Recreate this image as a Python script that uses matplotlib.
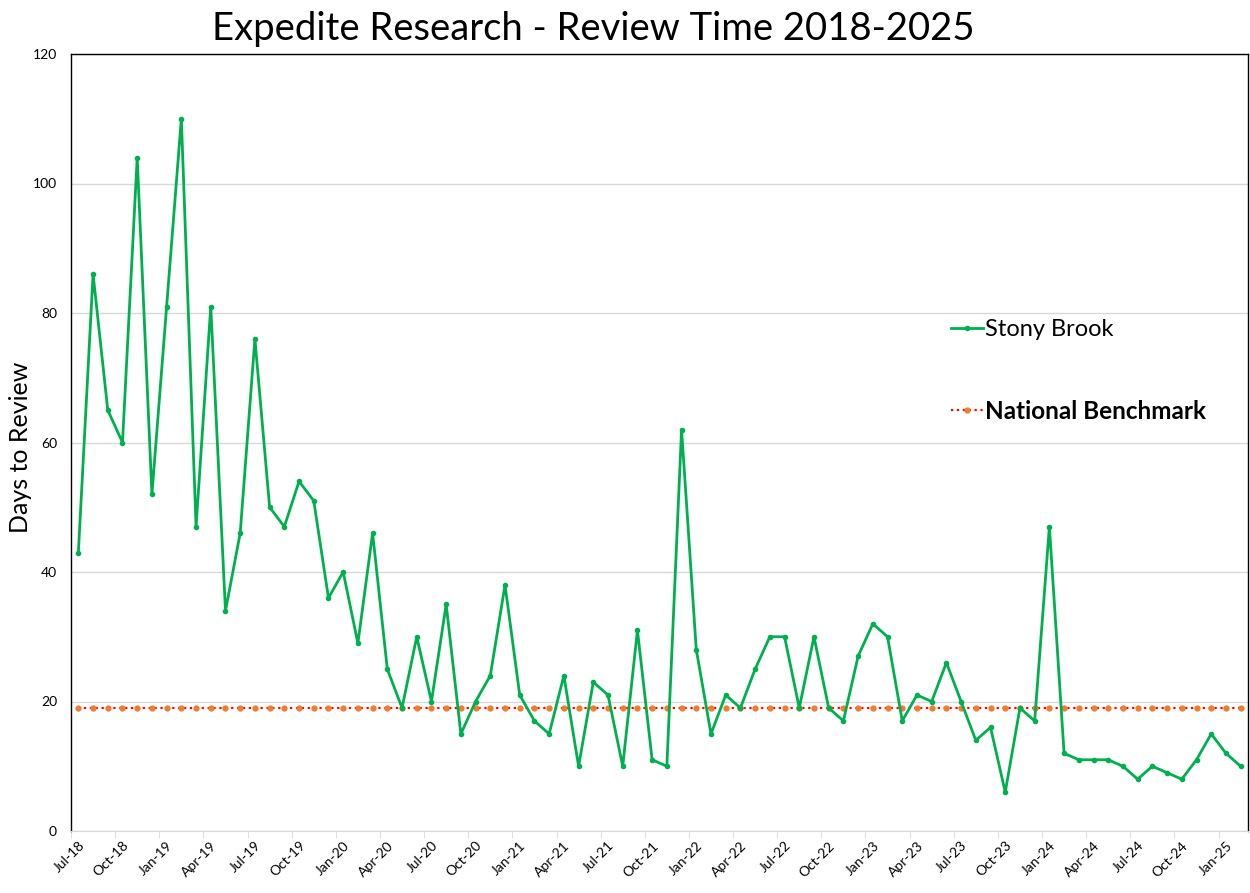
"""
Expedite Research - review time chart, 2018-2025
"""

import matplotlib
matplotlib.use('Agg')

import matplotlib.pyplot as plt
import numpy as np
import pandas as pd

# Monthly data, Jul-18 .. Feb-25
months = pd.date_range('2018-07-01', periods=80, freq='MS').strftime('%b-%y').tolist()
stony_brook = [43, 86, 65, 60, 104, 52, 81, 110, 47, 81, 34, 46,
               76, 50, 47, 54, 51, 36, 40, 29, 46, 25, 19, 30,
               20, 35, 15, 20, 24, 38, 21, 17, 15, 24, 10, 23,
               21, 10, 31, 11, 10, 62, 28, 15, 21, 19, 25, 30,
               30, 19, 30, 19, 17, 27, 32, 30, 17, 21, 20, 26,
               20, 14, 16, 6, 19, 17, 47, 12, 11, 11, 11, 10,
               8, 10, 9, 8, 11, 15, 12, 10]
benchmark = [19] * len(months)

plt.rcParams['font.family'] = ['Lato', 'DejaVu Sans']

fig = plt.figure(figsize=(12.5, 8.93), dpi=100)
ax = fig.add_axes([71 / 1250, 62 / 893, 1177 / 1250, 777 / 893])

x = np.arange(len(months))
ax.plot(x, benchmark, color='red', linestyle=':', linewidth=1.6,
        marker='o', markersize=3.5, markerfacecolor='#ED7D31',
        markeredgecolor='#ED7D31', label='National Benchmark', zorder=3)
ax.plot(x, stony_brook, color='#00B050', linewidth=2, marker='o',
        markersize=3, label='Stony Brook', zorder=4)

ax.set_xlim(-0.5, len(months) - 0.5)
ax.set_ylim(0, 120)
ax.set_yticks(np.arange(0, 121, 20))
ax.yaxis.grid(True, color='#D9D9D9', linewidth=1)
ax.set_axisbelow(True)
ax.tick_params(axis='y', length=0, pad=10, labelsize=10)

ax.set_xticks(x[::3])
ax.set_xticklabels(months[::3], rotation=45, ha='right', rotation_mode='anchor', fontsize=10)
ax.set_xticks(np.arange(-0.5, len(months), 3), minor=True)
ax.tick_params(axis='x', which='major', length=0, pad=6)
ax.tick_params(axis='x', which='minor', length=5, color='#D9D9D9')

for side in ['top', 'left', 'right']:
    ax.spines[side].set_color('black')
    ax.spines[side].set_linewidth(1)
ax.spines['bottom'].set_color('#D9D9D9')

ax.set_ylabel('Days to Review', fontsize=18)
ax.yaxis.set_label_coords(-0.033, (831 - 447) / 777)

handles, labels = ax.get_legend_handles_labels()
leg = ax.legend(handles[::-1], labels[::-1], loc='center left',
                bbox_to_anchor=(0.7477, 0.592), frameon=False, fontsize=17.5,
                labelspacing=2.45, handlelength=1.3, handletextpad=0.1,
                borderpad=0, borderaxespad=0)
leg.get_texts()[0].set_fontsize(17)
leg.get_texts()[1].set_fontweight('bold')

fig.text(0.475, 0.967, 'Expedite Research - Review Time 2018-2025',
         ha='center', va='center', fontsize=27.5)

plt.savefig('out.png', dpi=100)
plt.close()
